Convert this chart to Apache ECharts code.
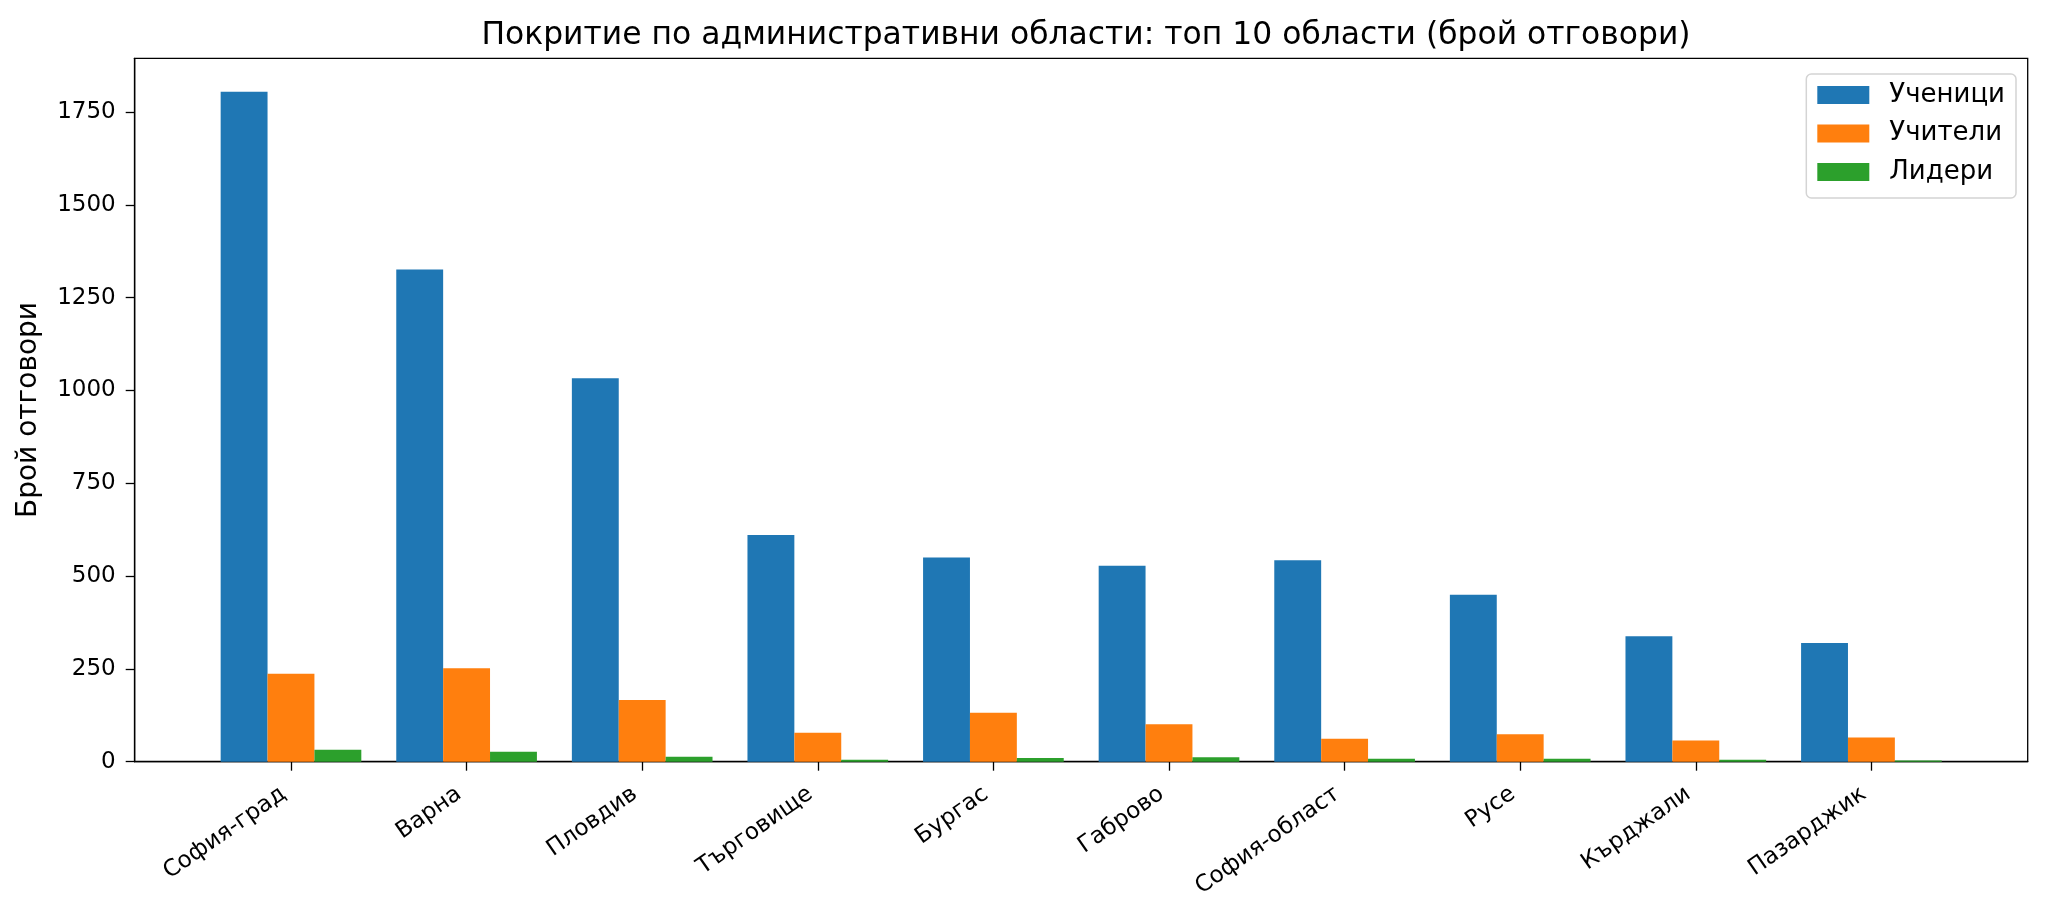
<!DOCTYPE html>
<html>
<head>
<meta charset="utf-8">
<script src="https://cdn.jsdelivr.net/npm/echarts@6/dist/echarts.min.js"></script>
<style>
  html, body { margin: 0; padding: 0; background: #fff; }
  #chart { width: 2048px; height: 919px; }
</style>
</head>
<body>
<div id="chart"></div>
<script>
// области (топ 10)
var regions = ["София-град", "Варна", "Пловдив", "Търговище", "Бургас",
               "Габрово", "София-област", "Русе", "Кърджали", "Пазарджик"];
var students = [1805, 1326, 1033, 611, 550, 528, 543, 450, 338, 320];
var teachers = [237, 252, 166, 78, 132, 101, 62, 74, 57, 65];
var leaders = [32, 27, 13, 5, 10, 12, 8, 8, 5, 3];
var yTicks = [0, 250, 500, 750, 1000, 1250, 1500, 1750];

var font = "DejaVu Sans";
var xIdx = regions.map(function (r, i) { return i; });

function pairs(vals) {
    return vals.map(function (v, i) { return [i, v]; });
}

function barSeries(name, vals, color) {
    return {
        name: name,
        type: "bar",
        data: pairs(vals),
        barWidth: "26.7%",
        barGap: "0%",
        itemStyle: { color: color },
        emphasis: { disabled: true }
    };
}

var chart = echarts.init(document.getElementById("chart"), null, { renderer: "canvas" });
chart.setOption({
    animation: false,
    backgroundColor: "#fff",
    title: {
        text: "Покритие по административни области: топ 10 области (брой отговори)",
        left: 1081,
        textAlign: "center",
        top: 15,
        textStyle: { fontFamily: font, fontSize: 31.4, fontWeight: "normal", color: "#000" }
    },
    legend: {
        orient: "vertical",
        right: 32,
        top: 74,
        padding: [8, 11, 13, 11],
        icon: "rect",
        itemWidth: 52,
        itemHeight: 18,
        itemGap: 12.5,
        borderColor: "#d4d4d4",
        borderWidth: 1.5,
        borderRadius: 5,
        backgroundColor: "rgba(255,255,255,0.8)",
        textStyle: { fontFamily: font, fontSize: 26, color: "#000", lineHeight: 26, padding: [0, 0, 0, 15] },
        data: ["Ученици", "Учители", "Лидери"]
    },
    grid: {
        left: 134.7,
        right: 20.3,
        top: 58.3,
        bottom: 157.3,
        show: true,
        borderColor: "#000",
        borderWidth: 1.3,
        containLabel: false
    },
    xAxis: {
        type: "value",
        min: -0.89,
        max: 9.89,
        splitLine: { show: false },
        axisLine: { show: true, onZero: false, lineStyle: { color: "#000", width: 1.3 } },
        axisTick: { show: true, customValues: xIdx, length: 9, lineStyle: { color: "#000", width: 1.3 } },
        axisLabel: {
            customValues: xIdx,
            rotate: 35,
            margin: 25,
            padding: [0, 9, 0, 0],
            fontFamily: font,
            fontSize: 23,
            color: "#000",
            formatter: function (v) { return regions[Math.round(v)]; }
        }
    },
    yAxis: {
        type: "value",
        min: 0,
        max: 1895,
        name: "Брой отговори",
        nameLocation: "middle",
        nameGap: 92,
        nameTextStyle: { fontFamily: font, fontSize: 28, color: "#000" },
        splitLine: { show: false },
        axisLine: { show: true, onZero: false, lineStyle: { color: "#000", width: 1.3 } },
        axisTick: { show: true, customValues: yTicks, length: 9, lineStyle: { color: "#000", width: 1.3 } },
        axisLabel: {
            customValues: yTicks,
            margin: 19,
            fontFamily: font,
            fontSize: 23,
            color: "#000",
            formatter: function (v) { return String(v); }
        }
    },
    series: [
        barSeries("Ученици", students, "#1f77b4"),
        barSeries("Учители", teachers, "#ff7f0e"),
        barSeries("Лидери", leaders, "#2ca02c")
    ]
});
</script>
</body>
</html>
